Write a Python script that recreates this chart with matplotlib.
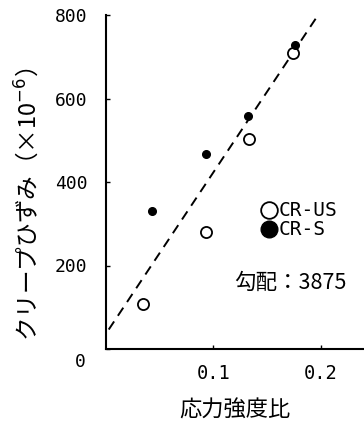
import matplotlib
matplotlib.use("Agg")
import matplotlib.pyplot as plt
import matplotlib.transforms as mtransforms
import numpy as np

plt.rcParams['font.family'] = ['Noto Sans CJK JP', 'DejaVu Sans']
plt.rcParams['mathtext.fontset'] = 'dejavusans'

# data
us_x = [0.035, 0.093, 0.133, 0.174]
us_y = [108, 280, 503, 708]
s_x = [0.043, 0.093, 0.132, 0.176]
s_y = [330, 468, 559, 727]
fit_slope = 3875
fit_intercept = 35
fit_x = [0.003, 0.2]
yticks = [0, 200, 400, 600, 800]
xticks = [0.1, 0.2]
xtick_labels = ['0.1', '0.2']
series_labels = ['CR-US', 'CR-S']

fig = plt.figure(figsize=(3.64, 4.21), dpi=100)
ax = fig.add_axes([105.5/364, 1-349/421, 1-105.5/364, (349-15)/421])
ax.set_xlim(0, 0.24)
ax.set_ylim(0, 800)

fx = np.array(fit_x)
ax.plot(fx, fit_slope*fx + fit_intercept, color='black', lw=1.4, ls=(0, (5, 3.5)))
ax.plot(us_x, us_y, 'o', mfc='white', mec='black', mew=1.3, ms=8, ls='none', label=series_labels[0])
ax.plot(s_x, s_y, 'o', mfc='black', mec='black', ms=5.5, ls='none', label=series_labels[1])

for sp in ['top', 'right']:
    ax.spines[sp].set_visible(False)
for sp in ['left', 'bottom']:
    ax.spines[sp].set_linewidth(1.5)

mono = 'DejaVu Sans Mono'
ax.set_yticks(yticks)
ax.set_yticklabels([str(v) for v in yticks], family=mono, fontsize=13)
ax.set_xticks(xticks)
ax.set_xticklabels(xtick_labels, family=mono, fontsize=13.5)
ax.tick_params(axis='y', direction='in', length=3, width=1, pad=13)
ax.tick_params(axis='x', direction='in', length=3, width=1, pad=11)
lbl0 = ax.get_yticklabels()[0]
lbl0.set_transform(lbl0.get_transform() + mtransforms.ScaledTranslation(-0.02, -0.11, fig.dpi_scale_trans))

ax.set_xlabel('応力強度比', fontsize=16, labelpad=11)
ax.set_ylabel('クリープひずみ（×10$^{-6}$）', fontsize=17)
ax.yaxis.set_label_coords(-0.25, 0.434)

leg = ax.legend(loc='center left', bbox_to_anchor=(0.56, 0.385), frameon=False,
                handlelength=0.9, handletextpad=0.05, labelspacing=0.0,
                borderpad=0, prop={'family': mono, 'size': 14})
for h in leg.legend_handles:
    h.set_markersize(12)

ax.text(0.1716, 158, '勾配：3875', fontsize=15.5, ha='center', va='center')

fig.savefig('out.png', dpi=100)
